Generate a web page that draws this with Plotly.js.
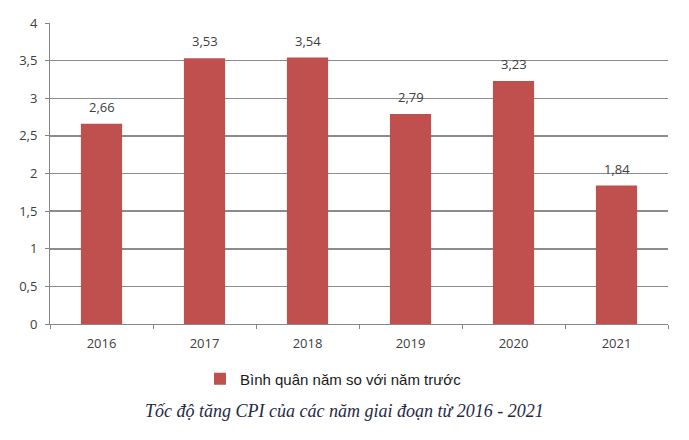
<!DOCTYPE html>
<html>
<head>
<meta charset="utf-8">
<script src="https://cdn.plot.ly/plotly-3.0.1.min.js"></script>
<style>html,body{margin:0;padding:0;background:#fff;}#chart{width:689px;height:440px;}</style>
</head>
<body>
<div id="chart"></div>
<script>
const years = ['2016', '2017', '2018', '2019', '2020', '2021'];
const cpiGrowth = [2.66, 3.53, 3.54, 2.79, 3.23, 1.84];
const seriesName = 'Bình quân năm so với năm trước';
const captionText = 'Tốc độ tăng CPI của các năm giai đoạn từ 2016 - 2021';
const yTicks = [0, 0.5, 1, 1.5, 2, 2.5, 3, 3.5, 4];

const fmt = v => String(v).replace('.', ',');

const trace = {
  type: 'bar',
  x: years,
  y: cpiGrowth,
  name: seriesName,
  marker: {color: '#C0504D'},
  hoverinfo: 'none'
};

// data labels placed above each bar (category index on the category axis)
const labelAnnotations = years.map((yr, i) => ({
  x: i, y: cpiGrowth[i], xref: 'x', yref: 'y',
  text: cpiGrowth[i].toFixed(2).replace('.', ','),
  showarrow: false, yanchor: 'bottom', yshift: 6,
  font: {family: 'Open Sans, sans-serif', size: 13, color: '#404040'}
}));

const layout = {
  width: 689, height: 440,
  margin: {l: 50, r: 21, t: 23, b: 116},
  paper_bgcolor: '#fff', plot_bgcolor: '#fff',
  separators: ',.',
  bargap: 0.6,
  showlegend: true,
  font: {family: 'Open Sans, sans-serif', color: '#404040', size: 13},
  xaxis: {
    type: 'category',
    range: [-0.5, years.length - 0.5],
    showline: true, linecolor: '#868686', linewidth: 1,
    ticks: 'outside', tickson: 'boundaries', ticklen: 4, tickcolor: '#868686',
    ticklabelstandoff: 7,
    showgrid: false,
    tickfont: {family: 'Open Sans, sans-serif', size: 13, color: '#404040'}
  },
  yaxis: {
    range: [0, 4],
    tickvals: yTicks,
    ticktext: yTicks.map(fmt),
    showline: true, linecolor: '#868686', linewidth: 1,
    ticks: 'outside', ticklen: 4, tickcolor: '#868686',
    ticklabelstandoff: 5,
    showgrid: true, gridcolor: '#8c8c8c', gridwidth: 1.5,
    zeroline: false,
    tickfont: {family: 'Open Sans, sans-serif', size: 13, color: '#404040'}
  },
  legend: {
    orientation: 'h', x: 0.2427, xanchor: 'left', y: -0.183, yanchor: 'middle',
    font: {family: 'Liberation Sans, Arial, sans-serif', size: 15, color: '#1a1a1a'},
    itemwidth: 30
  },
  annotations: labelAnnotations.concat([{
    text: '<i>' + captionText + '</i>',
    xref: 'paper', yref: 'paper', x: 0.477, y: -0.289, xanchor: 'center', yanchor: 'middle',
    showarrow: false,
    font: {family: 'Liberation Serif, Times New Roman, serif', size: 18, color: '#1f2a44'}
  }])
};

Plotly.newPlot('chart', [trace], layout, {displayModeBar: false, staticPlot: true});
</script>
</body>
</html>
